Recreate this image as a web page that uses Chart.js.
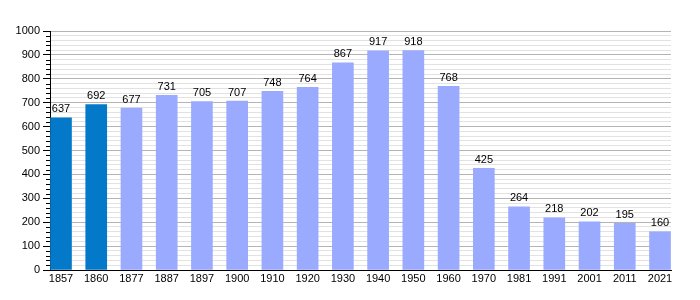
<!DOCTYPE html>
<html><head><meta charset="utf-8">
<script src="https://cdn.jsdelivr.net/npm/chart.js@4/dist/chart.umd.min.js"></script>
<style>html,body{margin:0;padding:0;background:#fff}#w{width:700px;height:300px}</style>
</head><body><div id="w"><canvas id="c"></canvas></div>
<script>
const years = ['1857','1860','1877','1887','1897','1900','1910','1920','1930','1940','1950','1960','1970','1981','1991','2001','2011','2021'];
const population = [637,692,677,731,705,707,748,764,867,917,918,768,425,264,218,202,195,160];
const darkCount = 2;
const darkColor = '#0579c9';
const lightColor = '#99aaff';
const FONT = 'Liberation Sans, Arial, sans-serif';

const labelsPlugin = {
  id: 'vals',
  afterDatasetsDraw(chart) {
    const ctx = chart.ctx;
    const meta = chart.getDatasetMeta(0);
    ctx.save();
    ctx.font = '11px ' + FONT;
    ctx.fillStyle = '#000';
    ctx.textAlign = 'center';
    ctx.textBaseline = 'bottom';
    meta.data.forEach((bar, i) => {
      ctx.fillText(String(population[i]), bar.x, bar.y - 3);
    });
    ctx.restore();
  },
  afterDraw(chart) {
    const ctx = chart.ctx;
    const y = chart.scales.y;
    const left = chart.chartArea.left;
    ctx.save();
    ctx.strokeStyle = '#000';
    ctx.lineWidth = 1;
    for (let v = 0; v <= 1000; v += 20) {
      if (v % 100 === 0) continue;
      const py = Math.round(y.getPixelForValue(v)) + 0.5;
      ctx.beginPath();
      ctx.moveTo(left - 4, py);
      ctx.lineTo(left, py);
      ctx.stroke();
    }
    ctx.restore();
  }
};

new Chart(document.getElementById('c'), {
  type: 'bar',
  data: {
    datasets: [{
      data: population.map((v, i) => ({x: i, y: v})),
      backgroundColor: population.map((v, i) => i < darkCount ? darkColor : lightColor),
      barThickness: 21,
      borderWidth: 0
    }]
  },
  options: {
    responsive: true,
    maintainAspectRatio: false,
    animation: false,
    events: [],
    layout: {padding: {top: 31, right: 29, bottom: 0, left: 0}},
    plugins: {legend: {display: false}, tooltip: {enabled: false}},
    scales: {
      x: {
        type: 'linear',
        offset: false,
        min: -0.312,
        max: 17.312,
        afterBuildTicks(scale) { scale.ticks = years.map((_, i) => ({value: i})); },
        afterFit(scale) { scale.height = 30; },
        grid: {display: false, drawTicks: false, tickLength: 0},
        border: {display: true, color: '#000', width: 1},
        ticks: {
          autoSkip: false,
          maxRotation: 0,
          padding: 2,
          color: '#000',
          font: {family: FONT, size: 11},
          callback: (v) => years[v] ?? ''
        }
      },
      y: {
        min: 0,
        max: 1000,
        afterFit(scale) { scale.width = 50; },
        ticks: {
          stepSize: 20,
          autoSkip: false,
          padding: 3,
          color: '#000',
          font: {family: FONT, size: 11},
          callback: (v) => (v % 100 === 0 ? String(v) : '')
        },
        grid: {
          color: (c) => (c.tick && c.tick.value % 100 === 0 ? '#b4b4b4' : '#e2e2e2'),
          tickColor: (c) => (c.tick && c.tick.value % 100 === 0 ? '#000' : 'rgba(0,0,0,0)'),
          tickLength: 7,
          lineWidth: 1
        },
        border: {display: true, color: '#000', width: 1}
      }
    }
  },
  plugins: [labelsPlugin]
});
</script>
</body></html>
